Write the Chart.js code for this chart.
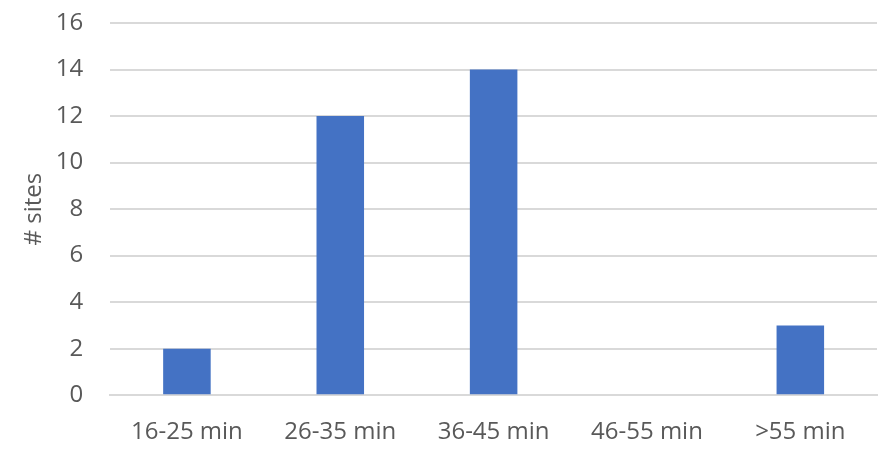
<!DOCTYPE html>
<html lang="en">
<head>
  <meta charset="UTF-8">
  <title># sites by travel time</title>
  <style>
    html, body { margin: 0; padding: 0; background: #fff; }
    #chart { display: block; }
  </style>
</head>
<body>
  <canvas id="chart" width="890" height="450"></canvas>

  <script src="https://cdn.jsdelivr.net/npm/chart.js"></script>
  <script>
    const categories = ['16-25 min', '26-35 min', '36-45 min', '46-55 min', '>55 min'];
    const siteCounts = [2, 12, 14, 0, 3];
    const yTicks = [0, 2, 4, 6, 8, 10, 12, 14, 16];

    const textColor = '#595959';
    const gridColor = '#d9d9d9';
    const fontFamily = '"Open Sans", sans-serif';

    const ctx = document.getElementById('chart');
    const chart = new Chart(ctx, {
      type: 'bar',
      data: {
        labels: categories,
        datasets: [{
          label: '# sites',
          data: siteCounts,
          backgroundColor: '#4472c4',
          categoryPercentage: 1,
          barPercentage: 0.31
        }]
      },
      options: {
        responsive: false,
        animation: false,
        devicePixelRatio: 1,
        layout: { padding: { top: 23, right: 13, bottom: -20, left: 20 } },
        plugins: {
          legend: { display: false },
          tooltip: { enabled: false }
        },
        scales: {
          x: {
            grid: { display: false, drawTicks: false },
            border: { display: true, color: gridColor, width: 2 },
            ticks: {
              color: textColor,
              padding: 23,
              font: { family: fontFamily, size: 24 }
            }
          },
          y: {
            min: 0,
            max: 16,
            afterBuildTicks: (axis) => { axis.ticks = yTicks.map(v => ({ value: v })); },
            // tick marks kept invisible, they only make the gap before the labels
            grid: { color: gridColor, lineWidth: 2, drawTicks: true, tickLength: 27, tickColor: 'rgba(0,0,0,0)' },
            border: { display: false },
            ticks: {
              color: textColor,
              padding: 0,
              font: { family: fontFamily, size: 24 }
            },
            title: {
              display: true,
              text: '# sites',
              color: textColor,
              padding: { top: 0, bottom: 7 },
              font: { family: fontFamily, size: 24 }
            }
          }
        }
      }
    });
  </script>
</body>
</html>
